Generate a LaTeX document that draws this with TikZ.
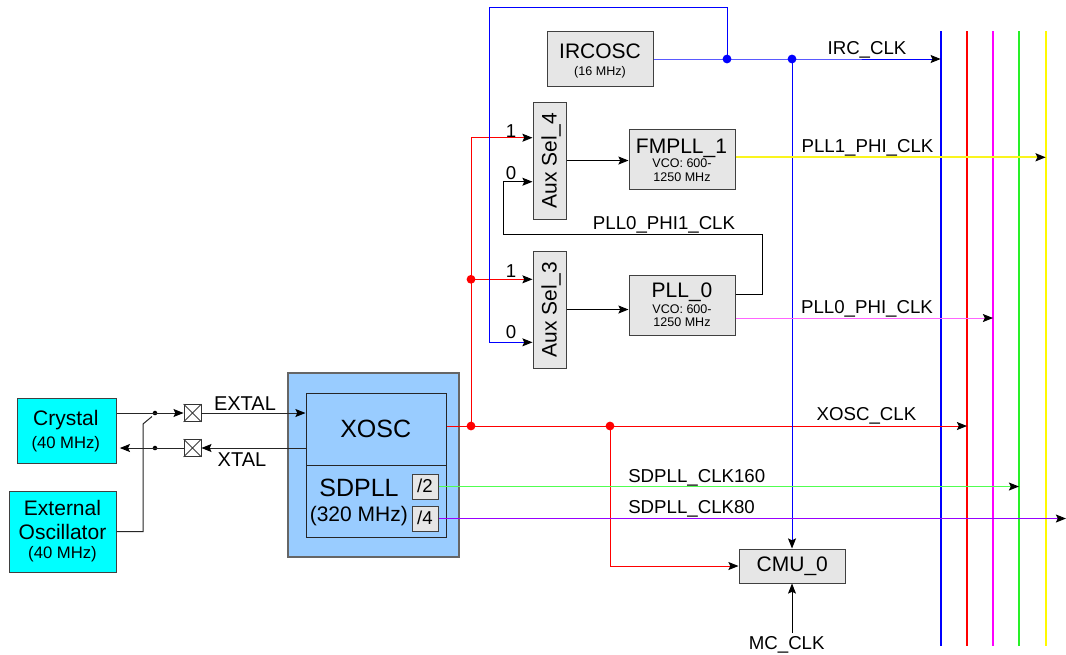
\documentclass[tikz,border=0pt]{standalone}
\usepackage{fontspec}
\setmainfont{Liberation Sans}
\usetikzlibrary{arrows.meta,calc}
\definecolor{cyanbox}{RGB}{0,255,255}
\definecolor{ltblue}{RGB}{153,204,255}
\definecolor{bgray}{RGB}{230,230,230}
\definecolor{busblue}{RGB}{0,0,255}
\definecolor{busred}{RGB}{255,0,0}
\definecolor{busmag}{RGB}{255,0,255}
\definecolor{busgreen}{RGB}{40,240,40}
\definecolor{busyellow}{RGB}{255,250,0}
\definecolor{lred}{RGB}{255,50,50}
\definecolor{lgreen}{RGB}{80,255,80}
\definecolor{lyellow}{RGB}{250,245,30}
\definecolor{lpink}{RGB}{255,100,255}
\definecolor{purp}{RGB}{153,0,255}
\newcommand{\fA}{\fontsize{14}{16}\selectfont}
\newcommand{\fAA}{\fontsize{15}{17}\selectfont}
\newcommand{\fB}{\fontsize{15.75}{18}\selectfont}
\newcommand{\fC}{\fontsize{18.75}{21}\selectfont}
\newcommand{\fD}{\fontsize{12.5}{14}\selectfont}
\newcommand{\fE}{\fontsize{9.4}{11}\selectfont}
\begin{document}
\begin{tikzpicture}[x=0.75pt,y=-0.75pt,
  >={Stealth[length=7.6pt,width=6pt,inset=1.4pt,color=black]},
  wire/.style={line width=0.75pt},
  bus/.style={line width=1.5pt},
  boxg/.style={draw=black!75, line width=0.75pt, fill=bgray, inner sep=0},
  boxc/.style={draw=black!75, line width=0.75pt, fill=cyanbox, inner sep=0},
  txt/.style={inner sep=0, anchor=base},
  dotr/.style={circle, fill=red, inner sep=0, minimum size=6.6pt},
  dotb/.style={circle, fill=busblue, inner sep=0, minimum size=6.6pt},
  dotk/.style={circle, fill=black, inner sep=0, minimum size=3.4pt},
  padbox/.style={draw=black!80, fill=white, line width=0.6pt, inner sep=0, minimum size=12.75pt},
]
\useasboundingbox[fill=white] (0,0) rectangle (1066,654);

% bus lines
\coordinate (bBt) at (940.7,31); \coordinate (bBb) at (940.7,646);
\coordinate (bRt) at (967,31); \coordinate (bRb) at (967,646);
\coordinate (bMt) at (993,31); \coordinate (bMb) at (993,646);
\coordinate (bGt) at (1019,31); \coordinate (bGb) at (1019,646);
\coordinate (bYt) at (1045.7,31); \coordinate (bYb) at (1045.7,646);
\draw[bus, busblue] (bBt) -- (bBb);
\draw[bus, busred] (bRt) -- (bRb);
\draw[bus, busmag] (bMt) -- (bMb);
\draw[bus, busgreen] (bGt) -- (bGb);
\draw[bus, busyellow] (bYt) -- (bYb);

% left sources
\node[boxc, minimum width=74.25pt, minimum height=48.75pt] (crystal) at (66.5,430.5) {};
\node[boxc, minimum width=80.25pt, minimum height=60.75pt] (extosc) at (62.5,531.5) {};
\node[txt, font=\fB] (tcry) at (65.8,425) {Crystal};
\node[txt, font=\fD] (tcry2) at (65.8,448.3) {(40 MHz)};
\node[txt, font=\fB] (text1) at (62.5,515.7) {External};
\node[txt, font=\fB] (text2) at (62.5,539.3) {Oscillator};
\node[txt, font=\fD] (text3) at (62.5,558.3) {(40 MHz)};

% XOSC / SDPLL group
\node[draw=black!60, line width=1pt, fill=ltblue, inner sep=0, minimum width=128.25pt, minimum height=138pt] (grp) at (373.5,465) {};
\node[draw=black!85, line width=0.75pt, fill=ltblue, inner sep=0, minimum width=105pt, minimum height=54pt] (xosc) at (376,429) {};
\node[draw=black!85, line width=0.75pt, fill=ltblue, inner sep=0, minimum width=105pt, minimum height=54pt] (sdpll) at (376,501) {};
\node[boxg, minimum width=19.5pt, minimum height=18.75pt] (div2) at (425,486.5) {};
\node[boxg, minimum width=19.5pt, minimum height=18.75pt] (div4) at (425,518.5) {};
\node[txt, font=\fC] (txosc) at (375.7,437.3) {XOSC};
\node[txt, font=\fC] (tsd) at (359,496.7) {SDPLL};
\node[txt, font=\fB] (tsd2) at (358.8,521.7) {(320 MHz)};
\node[txt, font=\fA] (td2) at (425,492.7) {/2};
\node[txt, font=\fA] (td4) at (425,524.3) {/4};

% pads
\node[padbox] (pad1) at (192.5,413) {};
\node[padbox] (pad2) at (192.5,448) {};
\draw[black!75, line width=0.6pt] (pad1.north west) -- (pad1.south east) (pad1.north east) -- (pad1.south west);
\draw[black!75, line width=0.6pt] (pad2.north west) -- (pad2.south east) (pad2.north east) -- (pad2.south west);
\node[txt, font=\fAA] (textal) at (245,410) {EXTAL};
\node[txt, font=\fAA] (txtal) at (242,466) {XTAL};

% crystal wiring
\node[dotk] (k1) at (155,413) {};
\node[dotk] (k2) at (155,448) {};
\draw[wire, black!85, ->] (crystal.east |- pad1) -- (pad1.west);
\draw[wire, black!85, ->] (pad1.east) -- (xosc.west |- pad1);
\draw[wire, black!85, ->] (xosc.west |- pad2) -- (pad2.east);
\draw[wire, black!85, ->, shorten >=2.5pt] (pad2.west) -- (crystal.east |- pad2);
\coordinate (sw1) at (143,424);
\coordinate (sw2) at (152,416.5);
\draw[wire, black!85] (extosc.east) -| (sw1) -- (sw2);

% upper blocks
\node[boxg, minimum width=79.5pt, minimum height=41.25pt] (ircosc) at (600,59) {};
\node[txt, font=\fB] (tirc) at (600,58.3) {IRCOSC};
\node[txt, font=\fE] (tirc2) at (600,75.5) {(16 MHz)};
\node[boxg, minimum width=24.75pt, minimum height=87.75pt] (aux4) at (549.5,160.5) {};
\node[boxg, minimum width=24.75pt, minimum height=87.75pt] (aux3) at (549.5,309.5) {};
\node[txt, font=\fB, rotate=90] (taux4) at (556.7,160.5) {Aux Sel\_4};
\node[txt, font=\fB, rotate=90] (taux3) at (556.7,309.5) {Aux Sel\_3};
\node[boxg, minimum width=79.5pt, minimum height=45pt] (fmpll) at (682,159.3) {};
\node[txt, font=\fB] (tfm) at (681.5,153.3) {FMPLL\_1};
\node[txt, font=\fE] (tfm2) at (682,167.7) {VCO: 600-};
\node[txt, font=\fE] (tfm3) at (682,181.7) {1250 MHz};
\node[boxg, minimum width=79.5pt, minimum height=45pt] (pll0) at (682,305) {};
\node[txt, font=\fB] (tpl) at (682,297.7) {PLL\_0};
\node[txt, font=\fE] (tpl2) at (682,313.3) {VCO: 600-};
\node[txt, font=\fE] (tpl3) at (682,326.7) {1250 MHz};
\node[boxg, minimum width=79.5pt, minimum height=25.5pt] (cmu0) at (792,566) {};
\node[txt, font=\fB] (tcmu) at (792.3,571.7) {CMU\_0};

% mux inputs
\coordinate (a4i1) at ([yshift=17.1pt]aux4.west);
\coordinate (a4i0) at ([yshift=-15.9pt]aux4.west);
\coordinate (a3i1) at ([yshift=22.65pt]aux3.west);
\coordinate (a3i0) at ([yshift=-24.6pt]aux3.west);
\node[txt, font=\fA] (l41) at (511,137) {1};
\node[txt, font=\fA] (l40) at (511,179) {0};
\node[txt, font=\fA] (l31) at (511,277) {1};
\node[txt, font=\fA] (l30) at (511,338) {0};

% red XOSC_CLK
\node[dotr] (r1) at (471,426) {};
\node[dotr] (r2) at (610,426) {};
\node[dotr] (r3) at (r1 |- a3i1) {};
\draw[wire, red, ->] (xosc.east |- r1) -- (r2.center) -- (bRt |- r2);
\draw[wire, red, ->] (r1.center) |- (a4i1);
\draw[wire, red, ->] (r3.center) -- (a3i1);
\draw[wire, red, ->] (r2.center) |- (cmu0.west);

% blue IRC_CLK
\node[dotb] (b1) at (727,59) {};
\node[dotb] (b2) at (cmu0.north |- b1) {};
\draw[wire, busblue, ->] (ircosc.east) -- (b2.center) -- (bBt |- b2);
\draw[wire, busblue, ->] (b1.center) -- ++(0,-52) -- ++(-238,0) |- (a3i0);
\draw[wire, busblue, ->] (b2.center) -- (cmu0.north);

% black feedback and mux outputs
\draw[wire, black, ->] ([yshift=8pt]pll0.east) -- ++(27,0) -- ++(0,-60.3) -- ++(-259,0) |- (a4i0);
\draw[wire, black, ->] (aux4.east) -- (aux4.east -| fmpll.west);
\draw[wire, black, ->] (aux3.east) -- (aux3.east -| pll0.west);

% outputs to buses
\coordinate (fo) at ([yshift=1.5pt]fmpll.east);
\coordinate (po) at ([yshift=-9.75pt]pll0.east);
\coordinate (pend) at (1066,518.5);
\draw[line width=1.3pt, lyellow, ->] (fo) -- (fo -| bYt);
\draw[wire, lpink, ->] (po) -- (po -| bMt);
\draw[wire, lgreen, ->] (div2.east) -- (div2.east -| bGt);
\draw[wire, purp, ->] (div4.east) -- (div4.east -| pend);

% MC_CLK
\node[txt, font=\fA] (mcclk) at (786.7,649) {MC\_CLK};
\coordinate (mcin) at (792,633);
\draw[wire, black, ->] (mcin) -- (cmu0.south);

% signal labels
\node[txt, font=\fA] (lirc) at (867,54) {IRC\_CLK};
\node[txt, font=\fA] (lpll1) at (867.5,152) {PLL1\_PHI\_CLK};
\node[txt, font=\fA] (lpll0) at (867,313) {PLL0\_PHI\_CLK};
\node[txt, font=\fA] (lpll01) at (664,229) {PLL0\_PHI1\_CLK};
\node[txt, font=\fA] (lxo) at (866.5,420) {XOSC\_CLK};
\node[txt, font=\fA, anchor=base west] (l160) at (628,482) {SDPLL\_CLK160};
\node[txt, font=\fA, anchor=base west] (l80) at (628,513.7) {SDPLL\_CLK80};
\end{tikzpicture}
\end{document}
